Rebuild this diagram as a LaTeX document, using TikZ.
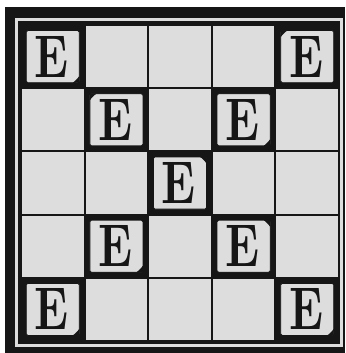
\documentclass[tikz,border=0pt]{standalone}
\usepackage{fontspec}
\usepackage{tikz}
\usetikzlibrary{calc}

\definecolor{paper}{RGB}{221,221,221}
\definecolor{ink}{RGB}{22,22,22}

\newcommand{\bigE}{\resizebox{34pt}{41pt}{\bfseries E}}

\tikzset{
  gridline/.style={draw=ink, line width=2pt},
  tilebox/.style={fill=paper, draw=ink, line width=0.7pt, rounded corners=1.5pt},
  letterE/.style={text=ink, inner sep=0pt},
}

\begin{document}
\begin{tikzpicture}[x=1pt,y=-1pt]
  \useasboundingbox (0,0) rectangle (345,353);
  \fill[white] (0,0) rectangle (345,353);

%frame
  \coordinate (FA) at (5,7);
  \coordinate (FB) at (345,353);
  \coordinate (LA) at (16,19.5);
  \coordinate (LB) at (341.5,345.5);
  \coordinate (GA) at (21,25);
  \coordinate (GB) at (339,341);
  \fill[ink] (FA) rectangle (FB);
  \draw[paper, line width=3pt] (LA) rectangle (LB);
  \fill[paper] (GA) rectangle (GB);

%grid
  \foreach \i in {0,...,5}{
    \draw[gridline] ({21+\i*63.6},25) -- ({21+\i*63.6},341);
    \draw[gridline] (21,{25+\i*63.2}) -- (339,{25+\i*63.2});
  }

%E cells (column/row/curl corner)
  \foreach \c/\r/\sx/\sy in {1/1/1/1, 5/1/-1/-1, 2/2/-1/-1, 4/2/1/1, 3/3/1/-1,
                             2/4/1/1, 4/4/1/-1, 1/5/1/1, 5/5/1/1}{
    \coordinate (cell\c\r) at ({21+(\c-0.5)*63.6},{25+(\r-0.5)*63.2});
    \coordinate (curl\c\r) at ($(cell\c\r)+(\sx*26.5,\sy*26)$);
    \fill[ink] ($(cell\c\r)+(-31.8,-31.6)$) rectangle ($(cell\c\r)+(31.8,31.6)$);
    \draw[tilebox] ($(cell\c\r)+(-26.5,-26)$) rectangle ($(cell\c\r)+(26.5,26)$);
    \fill[ink] (curl\c\r) -- ($(curl\c\r)+(-\sx*6,0)$) -- ($(curl\c\r)+(0,-\sy*6)$) -- cycle;
    \draw[ink, line width=0.9pt] ($(curl\c\r)+(-\sx*6,0)$)
      .. controls ($(curl\c\r)+(-\sx*2,-\sy*1)$) .. ($(curl\c\r)+(0,-\sy*6)$);
    \node[letterE] (E\c\r) at ($(cell\c\r)+(-1,0)$) {\bigE};
  }

\end{tikzpicture}
\end{document}
